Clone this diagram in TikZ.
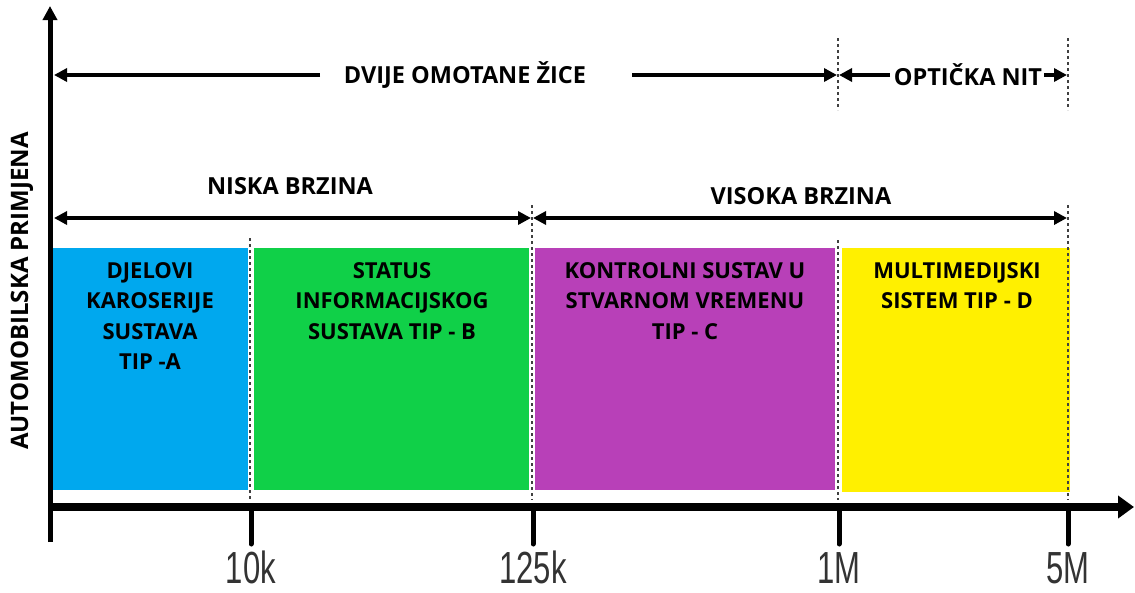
\documentclass[tikz,border=0pt]{standalone}
\usepackage{fontspec}
\setmainfont{Open Sans}
\newfontfamily\axisfont{Liberation Sans}
\usetikzlibrary{arrows.meta}
\definecolor{cblue}{HTML}{00A8EE}
\definecolor{cgreen}{HTML}{10D048}
\definecolor{cpurple}{HTML}{B840B8}
\definecolor{cyellow}{HTML}{FFF000}
\definecolor{ticklbl}{HTML}{333333}
\tikzset{
  tip/.style={-{Triangle[length=13pt,width=13pt]}},
  dtip/.style={{Triangle[length=13pt,width=13pt]}-{Triangle[length=13pt,width=13pt]}},
  arr/.style={line width=3.5pt},
  ztext/.style={font=\bfseries\fontsize{22}{30.5}\selectfont, align=center, anchor=north, inner sep=0pt},
  htext/.style={font=\bfseries\fontsize{23.5}{26}\selectfont, inner sep=0pt},
  sep/.style={dash pattern=on 3pt off 3pt, line width=1.6pt, black!75},
  ticklabel/.style={font=\axisfont\fontsize{45}{45}\selectfont, text=ticklbl, xscale=0.69, inner sep=0pt, anchor=base},
  tickline/.style={line width=5pt, line cap=round},
}
\begin{document}
\begin{tikzpicture}[x=1pt,y=-1pt]
\useasboundingbox (0,0) rectangle (1135,592);
% colour zones
\fill[cblue]   (52,248) rectangle (248,490);
\fill[cgreen]  (254,248) rectangle (529,490);
\fill[cpurple] (535,248) rectangle (835,490);
\fill[cyellow] (842,248) rectangle (1070,492);
% separators
\draw[sep] (250,238) -- (250,500);
\draw[sep] (532,205) -- (532,500);
\draw[sep] (838,38) -- (838,110);
\draw[sep] (838,240) -- (838,500);
\draw[sep] (1068,38) -- (1068,110);
\draw[sep] (1068,205) -- (1068,500);
% zone texts
\node[ztext] (za) at (150,262) {DJELOVI\\KAROSERIJE\\SUSTAVA\\TIP -A};
\node[ztext] (zb) at (392,262) {STATUS\\INFORMACIJSKOG\\SUSTAVA TIP - B};
\node[ztext] (zc) at (685,262) {KONTROLNI SUSTAV U\\STVARNOM VREMENU\\TIP - C};
\node[ztext] (zd) at (957,262) {MULTIMEDIJSKI\\SISTEM TIP - D};
% axes
\coordinate (ytop) at (50,6);
\coordinate (ybot) at (50,542);
\coordinate (xbeg) at (48,507);
\coordinate (xend) at (1134,507);
\draw[line width=5pt, -{Triangle[length=14pt,width=14pt]}] (ybot) -- (ytop);
\draw[line width=8pt, -{Triangle[length=16pt,width=22pt]}] (xbeg) -- (xend);
% ticks
\foreach \x/\lbl/\nm in {251/10k/ta,533/125k/tb,839/1M/tc,1068/5M/td}{
  \draw[tickline] (\x,507) -- (\x,544);
  \node[ticklabel] (\nm) at (\x,583) {\lbl};
}
% top row
\coordinate (a1s) at (320,75);
\coordinate (a1e) at (54,75);
\coordinate (a2s) at (632,75);
\coordinate (a2e) at (837,75);
\coordinate (a3s) at (890,75);
\coordinate (a3e) at (839,75);
\coordinate (a4s) at (1044,75);
\coordinate (a4e) at (1067,75);
\draw[arr,tip] (a1s) -- (a1e);
\node[htext] (dv) at (465,75) {DVIJE OMOTANE ŽICE};
\draw[arr,tip] (a2s) -- (a2e);
\draw[arr,tip] (a3s) -- (a3e);
\node[htext] (op) at (968,75) {OPTIČKA NIT};
\draw[arr,tip] (a4s) -- (a4e);
% second row
\coordinate (b1s) at (54,218);
\coordinate (b1e) at (531,218);
\coordinate (b2s) at (533,218);
\coordinate (b2e) at (1067,218);
\draw[arr,dtip] (b1s) -- (b1e);
\draw[arr,dtip] (b2s) -- (b2e);
\node[htext] (nb) at (290,186) {NISKA BRZINA};
\node[htext] (vb) at (801,196) {VISOKA BRZINA};
% y label
\node[htext, font=\bfseries\fontsize{24}{26}\selectfont, rotate=90] (yl) at (22,291) {AUTOMOBILSKA PRIMJENA};
\end{tikzpicture}
\end{document}
